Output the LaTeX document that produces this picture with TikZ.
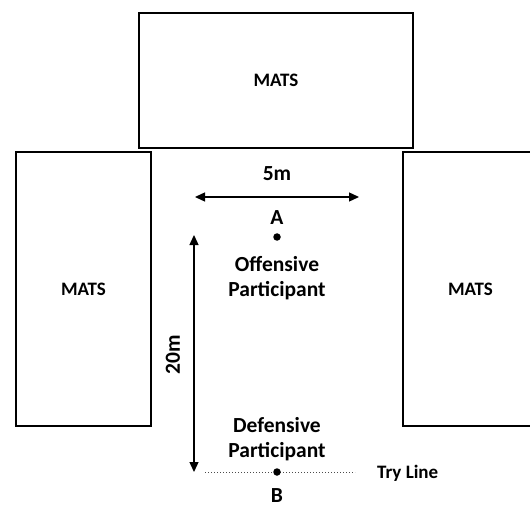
\documentclass[tikz,border=0pt]{standalone}
\usepackage{fontspec}
\setmainfont{Carlito}
\usetikzlibrary{arrows.meta}
\begin{document}
\begin{tikzpicture}[x=1pt,y=-1pt,
  mat/.style={draw=black,line width=1.6pt,fill=white,font=\fontsize{19}{22}\selectfont\bfseries,inner sep=0pt},
  lbl/.style={font=\fontsize{21.5}{25.5}\selectfont\bfseries,align=center,inner sep=0pt},
  small/.style={font=\fontsize{19}{22}\selectfont\bfseries,inner sep=0pt},
  dim/.style={line width=1.3pt,{Triangle[length=10pt,width=9pt]}-{Triangle[length=10pt,width=9pt]}},
  pt/.style={circle,fill=black,inner sep=0pt,minimum size=7.5pt},
  tryline/.style={dotted,line width=1pt,draw=black!70}]
\useasboundingbox (0,0) rectangle (530,505);
\node[mat,minimum width=274pt,minimum height=135pt] (top) at (276,80.5) {MATS};
\node[mat,minimum width=135pt,minimum height=274pt] (left) at (83.5,289) {MATS};
\node[mat,minimum width=135pt,minimum height=274pt] (right) at (470.5,289) {MATS};
\coordinate (h1) at (195,197);
\coordinate (h2) at (359,197);
\draw[dim] (h1) -- (h2);
\node[lbl] (five) at (277,174) {5m};
\node[lbl] (Alab) at (277,218) {A};
\node[pt] (A) at (277,237) {};
\node[lbl] (off) at (277,278) {Offensive\\Participant};
\coordinate (v1) at (194,235);
\coordinate (v2) at (194,472);
\draw[dim] (v1) -- (v2);
\node[lbl,rotate=90] (twenty) at (173,355) {20m};
\node[lbl] (def) at (277,439) {Defensive\\Participant};
\coordinate (t1) at (205,472);
\coordinate (t2) at (355,472);
\draw[tryline] (t1) -- (t2);
\node[pt] (B) at (277,472) {};
\node[lbl] (Blab) at (277,496) {B};
\node[small,anchor=west] (try) at (377,473) {Try Line};
\end{tikzpicture}
\end{document}
